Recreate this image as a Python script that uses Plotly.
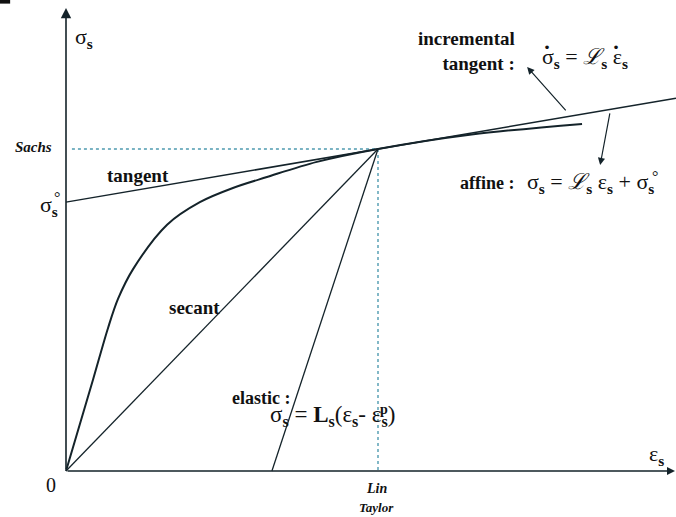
import plotly.graph_objects as go

# Stress-strain response of a single phase, normalised so that the
# reference state (Sachs stress / Lin-Taylor strain) sits at (1, 1).
curve_eps = [0.0, 0.087, 0.135, 0.167, 0.215, 0.324, 0.429, 0.535, 0.644, 0.804, 1.0, 1.30, 1.654]
curve_sig = [0.0, 0.285, 0.445, 0.535, 0.627, 0.765, 0.835, 0.879, 0.913, 0.960, 1.0, 1.045, 1.078]

ref_eps = 1.0          # Lin / Taylor strain
ref_sig = 1.0          # Sachs stress
sigma0 = 0.835         # affine intercept sigma_s^0
eps_plastic = 0.66     # elastic unloading intercept eps_s^p
eps_max = 1.955        # right end of the tangent line
axis_eps_end = 1.952
axis_sig_end = 1.438

tangent_slope = (ref_sig - sigma0) / ref_eps
tangent_eps = [0.0, eps_max]
tangent_sig = [sigma0 + tangent_slope * e for e in tangent_eps]
secant_eps = [0.0, ref_eps]
secant_sig = [0.0, ref_sig]
elastic_eps = [eps_plastic, ref_eps]
elastic_sig = [0.0, ref_sig]
sachs_eps = [0.019, ref_eps]
sachs_sig = [ref_sig, ref_sig]
lin_eps = [ref_eps, ref_eps]
lin_sig = [ref_sig, 0.0]

INK = "#14232a"
DOT = "#4f9bb0"
SERIF = "Liberation Serif, Times New Roman, serif"

fig = go.Figure()


def line(x, y, color=INK, width=1.5, dash="solid", shape="linear", smoothing=1.0):
    fig.add_trace(go.Scatter(x=x, y=y, mode="lines", hoverinfo="skip",
                             line=dict(color=color, width=width, dash=dash,
                                       shape=shape, smoothing=smoothing)))


line(sachs_eps, sachs_sig, color=DOT, width=1.4, dash="dot")
line(lin_eps, lin_sig, color=DOT, width=1.4, dash="dot")
line(tangent_eps, tangent_sig, width=1.5)
line(secant_eps, secant_sig, width=1.3)
line(elastic_eps, elastic_sig, width=1.3)
line(curve_eps, curve_sig, width=2.0, shape="spline", smoothing=0.9)


def arrow(x_head, y_head, x_tail, y_tail, head=2, size=1.0, width=1.3):
    fig.add_annotation(x=x_head, y=y_head, ax=x_tail, ay=y_tail,
                       xref="x", yref="y", axref="x", ayref="y", text="",
                       showarrow=True, arrowhead=head, arrowsize=size,
                       arrowwidth=width, arrowcolor=INK)


# coordinate axes
arrow(0.0, axis_sig_end, 0.0, 0.0, head=2, size=1.3, width=1.6)
arrow(axis_eps_end, 0.0, 0.0, 0.0, head=2, size=1.0, width=1.6)
# pointers to the two linearisations
arrow(1.478, 1.255, 1.606, 1.115, head=2, size=1.2, width=1.2)
arrow(1.712, 0.950, 1.744, 1.115, head=2, size=1.2, width=1.2)


def label(x, y, text, size=17, anchor="center", bold=False, italic=False, align="left"):
    if bold:
        text = "<b>" + text + "</b>"
    if italic:
        text = "<i>" + text + "</i>"
    fig.add_annotation(x=x, y=y, xref="x", yref="y", text=text, showarrow=False,
                       xanchor=anchor, yanchor="middle", align=align,
                       font=dict(family=SERIF, size=size, color="#111111"))


S = "<sub><b>s</b></sub>"

label(0.022, 1.345, "σ" + S, size=22, anchor="left")
label(-0.040, 1.006, "Sachs", size=15, anchor="right", bold=True, italic=True)
label(0.231, 0.919, "tangent", size=19, bold=True)
label(-0.019, 0.822, "σ" + S, size=22, anchor="right")
label(-0.030, 0.850, "°", size=16)
label(0.413, 0.509, "secant", size=19, bold=True)
label(1.446, 1.304, "incremental<br>tangent :", size=19, anchor="right", bold=True, align="right")
# rate form: dots drawn above sigma and epsilon
label(1.519, 1.283, "σ" + S + " = <i>ℒ</i>" + S + " ε" + S, size=22, anchor="left")
label(1.542, 1.295, "<b>˙</b>", size=24)
label(1.764, 1.295, "<b>˙</b>", size=24)
label(1.256, 0.894, "affine :", size=18, anchor="left", bold=True)
label(1.470, 0.894, "σ" + S + " = <i>ℒ</i>" + S + " ε" + S + " + σ" + S, size=22, anchor="left")
label(1.888, 0.915, "°", size=16)
label(0.526, 0.227, "elastic :", size=18, anchor="left", bold=True)
label(0.647, 0.170, "σ" + S + " = <b>L</b>" + S + "(ε" + S + "- ε" + S + ")", size=23, anchor="left")
label(1.020, 0.190, "<b>p</b>", size=14)
label(-0.048, -0.043, "0", size=20)
label(1.894, 0.050, "ε" + S, size=22)
label(0.994, -0.053, "Lin", size=14, bold=True, italic=True)
label(0.994, -0.112, "Taylor", size=13, bold=True, italic=True)

# small dark mark in the top-left corner
fig.add_shape(type="rect", xref="paper", yref="paper", x0=0, x1=0.015, y0=0.993, y1=1.0,
              fillcolor="#111111", line=dict(width=0))

fig.update_layout(
    width=676, height=517,
    margin=dict(l=0, r=0, t=0, b=0),
    paper_bgcolor="white", plot_bgcolor="white",
    showlegend=False,
    xaxis=dict(range=[-66 / 312, 610 / 312], visible=False, fixedrange=True),
    yaxis=dict(range=[-46 / 322, 471 / 322], visible=False, fixedrange=True),
)

fig.write_html("out.html")
